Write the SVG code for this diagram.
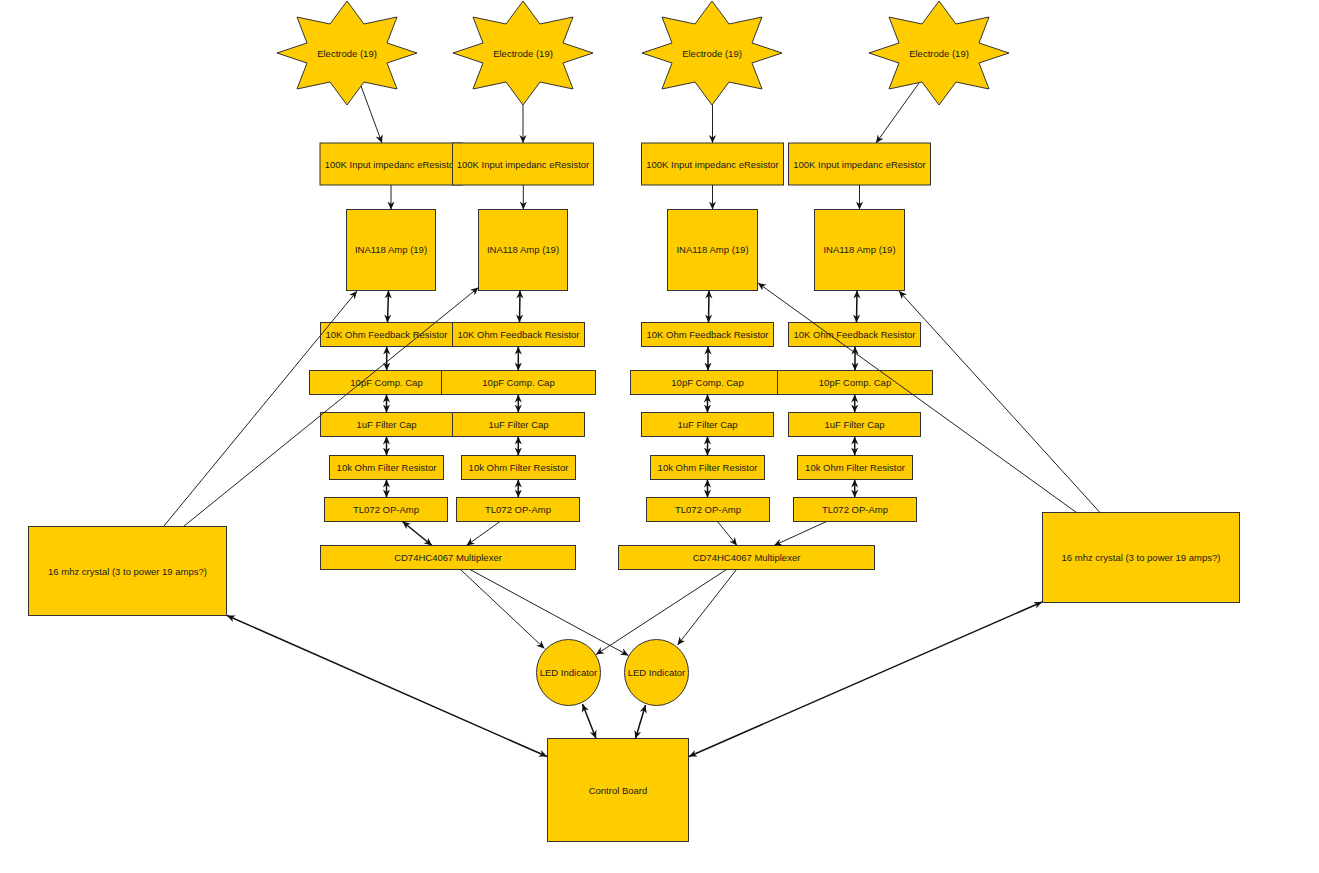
<svg xmlns="http://www.w3.org/2000/svg" xmlns:xlink="http://www.w3.org/1999/xlink" width="1319" height="873" viewBox="0 0 1319 873">
  <style>
    .shape { fill: #ffcc00; stroke: #333333; stroke-width: 1; }
    .label { font-family: "Liberation Sans", Arial, sans-serif; font-size: 9.5px; fill: #1a1a1a; text-anchor: middle; dominant-baseline: central; }
    .edge { fill: none; stroke: #222222; stroke-width: 1; }
    .edge-thick { fill: none; stroke: #111111; stroke-width: 1.5; }
    .one { marker-end: url(#arrow); }
    .both { marker-start: url(#arrow); marker-end: url(#arrow); }
  </style>
  <defs>
    <marker id="arrow" viewBox="0 0 10 10" refX="10" refY="5" markerWidth="8" markerHeight="8" markerUnits="userSpaceOnUse" orient="auto-start-reverse">
      <path d="M0,0.5 L10,5 L0,9.5 L3,5 z" fill="#111111" stroke="none"/>
    </marker>
    <polygon id="star" points="0,-52 17,-29 50,-36 40,-10 70,0 40,10 50,36 17,29 0,52 -17,29 -50,36 -40,10 -70,0 -40,-10 -50,-36 -17,-29"/>
  </defs>
  <rect width="1319" height="873" fill="#ffffff"/>

  <!-- electrodes -->
  <g id="electrode-1"><use xlink:href="#star" href="#star" class="shape" x="347" y="53"/><text class="label" x="347" y="53">Electrode (19)</text></g>
  <g id="electrode-2"><use xlink:href="#star" href="#star" class="shape" x="523" y="53"/><text class="label" x="523" y="53">Electrode (19)</text></g>
  <g id="electrode-3"><use xlink:href="#star" href="#star" class="shape" x="712" y="53"/><text class="label" x="712" y="53">Electrode (19)</text></g>
  <g id="electrode-4"><use xlink:href="#star" href="#star" class="shape" x="939" y="53"/><text class="label" x="939" y="53">Electrode (19)</text></g>

  <!-- input resistors -->
  <g id="input-res-1"><rect class="shape" x="320" y="143" width="142" height="42"/><text class="label" x="391" y="164">100K Input impedanc eResistor</text></g>
  <g id="input-res-2"><rect class="shape" x="452.5" y="143" width="141" height="42"/><text class="label" x="523" y="164">100K Input impedanc eResistor</text></g>
  <g id="input-res-3"><rect class="shape" x="641.5" y="143" width="142" height="42"/><text class="label" x="712.5" y="164">100K Input impedanc eResistor</text></g>
  <g id="input-res-4"><rect class="shape" x="788.5" y="143" width="142" height="42"/><text class="label" x="859.5" y="164">100K Input impedanc eResistor</text></g>

  <!-- instrumentation amps -->
  <g id="ina-1"><rect class="shape" x="346.5" y="209.5" width="89" height="81"/><text class="label" x="391" y="249.5">INA118 Amp (19)</text></g>
  <g id="ina-2"><rect class="shape" x="478.5" y="209.5" width="89" height="81"/><text class="label" x="523" y="249.5">INA118 Amp (19)</text></g>
  <g id="ina-3"><rect class="shape" x="667.5" y="209.5" width="90" height="81"/><text class="label" x="712.5" y="249.5">INA118 Amp (19)</text></g>
  <g id="ina-4"><rect class="shape" x="814.5" y="209.5" width="90" height="81"/><text class="label" x="859.5" y="249.5">INA118 Amp (19)</text></g>

  <!-- feedback resistors -->
  <g id="feedback-1"><rect class="shape" x="320.5" y="322.5" width="132" height="24"/><text class="label" x="386.5" y="334.5">10K Ohm Feedback Resistor</text></g>
  <g id="feedback-2"><rect class="shape" x="452.5" y="322.5" width="132" height="24"/><text class="label" x="518.5" y="334.5">10K Ohm Feedback Resistor</text></g>
  <g id="feedback-3"><rect class="shape" x="641.5" y="322.5" width="132" height="24"/><text class="label" x="707.5" y="334.5">10K Ohm Feedback Resistor</text></g>
  <g id="feedback-4"><rect class="shape" x="788.5" y="322.5" width="132" height="24"/><text class="label" x="854.5" y="334.5">10K Ohm Feedback Resistor</text></g>

  <!-- compensation caps -->
  <g id="comp-cap-1"><rect class="shape" x="309.5" y="370.5" width="154" height="24"/><text class="label" x="386.5" y="382.5">10pF Comp. Cap</text></g>
  <g id="comp-cap-2"><rect class="shape" x="441.5" y="370.5" width="154" height="24"/><text class="label" x="518.5" y="382.5">10pF Comp. Cap</text></g>
  <g id="comp-cap-3"><rect class="shape" x="630.5" y="370.5" width="154" height="24"/><text class="label" x="707.5" y="382.5">10pF Comp. Cap</text></g>
  <g id="comp-cap-4"><rect class="shape" x="777.5" y="370.5" width="155" height="24"/><text class="label" x="855" y="382.5">10pF Comp. Cap</text></g>

  <!-- filter caps -->
  <g id="filter-cap-1"><rect class="shape" x="320.5" y="412.5" width="132" height="24"/><text class="label" x="386.5" y="424.5">1uF Filter Cap</text></g>
  <g id="filter-cap-2"><rect class="shape" x="452.5" y="412.5" width="132" height="24"/><text class="label" x="518.5" y="424.5">1uF Filter Cap</text></g>
  <g id="filter-cap-3"><rect class="shape" x="641.5" y="412.5" width="132" height="24"/><text class="label" x="707.5" y="424.5">1uF Filter Cap</text></g>
  <g id="filter-cap-4"><rect class="shape" x="788.5" y="412.5" width="132" height="24"/><text class="label" x="854.5" y="424.5">1uF Filter Cap</text></g>

  <!-- filter resistors -->
  <g id="filter-res-1"><rect class="shape" x="329.5" y="455.5" width="114" height="24"/><text class="label" x="386.5" y="467.5">10k Ohm Filter Resistor</text></g>
  <g id="filter-res-2"><rect class="shape" x="461.5" y="455.5" width="114" height="24"/><text class="label" x="518.5" y="467.5">10k Ohm Filter Resistor</text></g>
  <g id="filter-res-3"><rect class="shape" x="650.5" y="455.5" width="114" height="24"/><text class="label" x="707.5" y="467.5">10k Ohm Filter Resistor</text></g>
  <g id="filter-res-4"><rect class="shape" x="797.5" y="455.5" width="115" height="24"/><text class="label" x="855" y="467.5">10k Ohm Filter Resistor</text></g>

  <!-- op-amps -->
  <g id="opamp-1"><rect class="shape" x="324.5" y="497.5" width="123" height="24"/><text class="label" x="386" y="509.5">TL072 OP-Amp</text></g>
  <g id="opamp-2"><rect class="shape" x="456.5" y="497.5" width="123" height="24"/><text class="label" x="518" y="509.5">TL072 OP-Amp</text></g>
  <g id="opamp-3"><rect class="shape" x="646.5" y="497.5" width="123" height="24"/><text class="label" x="708" y="509.5">TL072 OP-Amp</text></g>
  <g id="opamp-4"><rect class="shape" x="793.5" y="497.5" width="123" height="24"/><text class="label" x="855" y="509.5">TL072 OP-Amp</text></g>

  <!-- multiplexers -->
  <g id="mux-1"><rect class="shape" x="320.5" y="545.5" width="255" height="24"/><text class="label" x="448" y="557.5">CD74HC4067 Multiplexer</text></g>
  <g id="mux-2"><rect class="shape" x="618.5" y="545.5" width="256" height="24"/><text class="label" x="746.5" y="557.5">CD74HC4067 Multiplexer</text></g>

  <!-- crystals -->
  <g id="crystal-left"><rect class="shape" x="28.5" y="526.5" width="198" height="89"/><text class="label" x="127.5" y="571">16 mhz crystal (3 to power 19 amps?)</text></g>
  <g id="crystal-right"><rect class="shape" x="1042.5" y="512.5" width="197" height="90"/><text class="label" x="1141" y="557.5">16 mhz crystal (3 to power 19 amps?)</text></g>

  <!-- indicators -->
  <g id="led-1"><ellipse class="shape" cx="568.5" cy="672.5" rx="32" ry="33"/><text class="label" x="568.5" y="672.5">LED Indicator</text></g>
  <g id="led-2"><ellipse class="shape" cx="656.5" cy="672.5" rx="32" ry="33"/><text class="label" x="656.5" y="672.5">LED Indicator</text></g>

  <!-- controller -->
  <g id="control-board"><rect class="shape" x="547.5" y="738.5" width="141" height="103"/><text class="label" x="618" y="790">Control Board</text></g>

  <g id="connectors">
    <!-- electrodes to input resistors -->
    <line class="edge one" x1="361" y1="86" x2="382" y2="143"/>
    <line class="edge one" x1="523" y1="105" x2="523" y2="143"/>
    <line class="edge one" x1="712.5" y1="105" x2="712.5" y2="143"/>
    <line class="edge one" x1="919" y1="83" x2="876" y2="143"/>

    <!-- input resistors to amps -->
    <line class="edge one" x1="391" y1="185" x2="391" y2="209.5"/>
    <line class="edge one" x1="523.3" y1="185" x2="523.3" y2="209.5"/>
    <line class="edge one" x1="712.5" y1="185" x2="712.5" y2="209.5"/>
    <line class="edge one" x1="859.5" y1="185" x2="859.5" y2="209.5"/>

    <!-- amps to feedback resistors -->
    <line class="edge-thick both" x1="388.5" y1="290.5" x2="387.5" y2="322.5"/>
    <line class="edge-thick both" x1="520" y1="290.5" x2="519.5" y2="322.5"/>
    <line class="edge-thick both" x1="709" y1="290.5" x2="708.5" y2="322.5"/>
    <line class="edge-thick both" x1="857" y1="290.5" x2="856.5" y2="322.5"/>

    <!-- feedback resistors to comp caps -->
    <line class="edge-thick both" x1="386.7" y1="346.5" x2="386.7" y2="370.5"/>
    <line class="edge-thick both" x1="518.3" y1="346.5" x2="518.3" y2="370.5"/>
    <line class="edge-thick both" x1="708" y1="346.5" x2="708" y2="370.5"/>
    <line class="edge-thick both" x1="855" y1="346.5" x2="855" y2="370.5"/>

    <!-- comp caps to filter caps -->
    <line class="edge-thick both" x1="386.5" y1="394.5" x2="386.5" y2="412.5"/>
    <line class="edge-thick both" x1="518.3" y1="394.5" x2="518.3" y2="412.5"/>
    <line class="edge-thick both" x1="707.5" y1="394.5" x2="707.5" y2="412.5"/>
    <line class="edge-thick both" x1="854.7" y1="394.5" x2="854.7" y2="412.5"/>

    <!-- filter caps to filter resistors -->
    <line class="edge-thick both" x1="386.5" y1="436.5" x2="386.5" y2="455.5"/>
    <line class="edge-thick both" x1="518.3" y1="436.5" x2="518.3" y2="455.5"/>
    <line class="edge-thick both" x1="707.5" y1="436.5" x2="707.5" y2="455.5"/>
    <line class="edge-thick both" x1="854.7" y1="436.5" x2="854.7" y2="455.5"/>

    <!-- filter resistors to op-amps -->
    <line class="edge-thick both" x1="386.5" y1="479.5" x2="386.5" y2="497.5"/>
    <line class="edge-thick both" x1="518.3" y1="479.5" x2="518.3" y2="497.5"/>
    <line class="edge-thick both" x1="707.5" y1="479.5" x2="707.5" y2="497.5"/>
    <line class="edge-thick both" x1="854.7" y1="479.5" x2="854.7" y2="497.5"/>

    <!-- op-amps to multiplexers -->
    <line class="edge-thick both" x1="402.5" y1="521.5" x2="432" y2="545.5"/>
    <line class="edge one" x1="500" y1="521.5" x2="466.5" y2="545.5"/>
    <line class="edge one" x1="717.5" y1="521.5" x2="737" y2="545.5"/>
    <line class="edge one" x1="826.5" y1="521.5" x2="774" y2="545.5"/>

    <!-- multiplexers to indicators -->
    <line class="edge one" x1="460.5" y1="569.5" x2="544.5" y2="648.5"/>
    <line class="edge one" x1="470" y1="569.5" x2="628.5" y2="655.5"/>
    <line class="edge one" x1="726.5" y1="569.5" x2="596" y2="654.5"/>
    <line class="edge one" x1="736.5" y1="569.5" x2="677.5" y2="645"/>

    <!-- indicators to control board -->
    <line class="edge-thick both" x1="582.5" y1="704" x2="596" y2="738.5"/>
    <line class="edge-thick both" x1="645.5" y1="705" x2="635.5" y2="738.5"/>

    <!-- crystals to control board -->
    <line class="edge-thick both" x1="227" y1="615.5" x2="547" y2="756.5"/>
    <line class="edge-thick both" x1="1042" y1="602" x2="689" y2="756.5"/>

    <!-- crystals to amps -->
    <line class="edge one" x1="163.5" y1="526.5" x2="357" y2="291"/>
    <line class="edge one" x1="183.5" y1="526.5" x2="478.5" y2="287.5"/>
    <line class="edge one" x1="1076.5" y1="512.5" x2="758" y2="283"/>
    <line class="edge one" x1="1100" y1="512.5" x2="899" y2="291"/>
  </g>
</svg>
